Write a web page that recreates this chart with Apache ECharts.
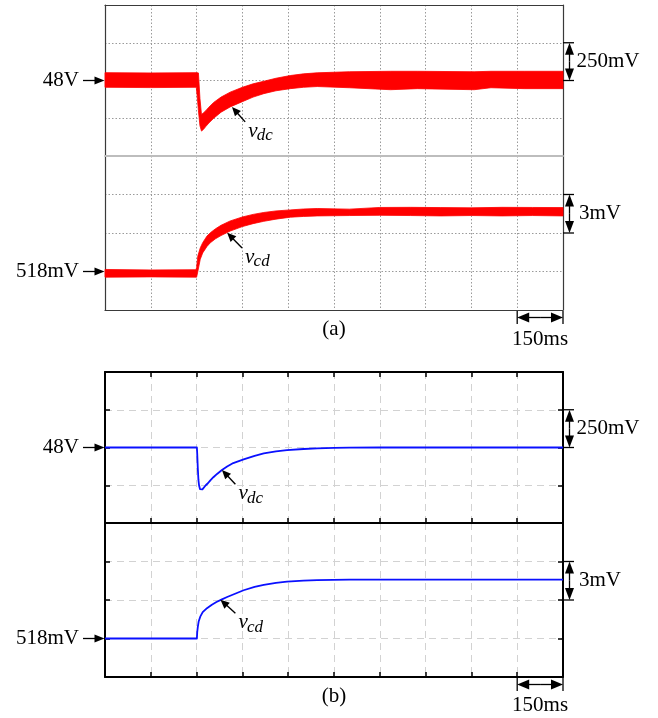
<!DOCTYPE html>
<html><head><meta charset="utf-8">
<script src="https://cdn.jsdelivr.net/npm/echarts@6/dist/echarts.min.js"></script>
<style>html,body{margin:0;padding:0;background:#fff}#c{width:658px;height:718px}</style>
</head><body><div id="c"></div>
<script>
// ---------- DATA (time in ms, voltages in V / mV) ----------
// (a) experimental: noisy band envelopes
const tA        = [0, 150, 299, 302, 306, 311, 316, 322, 330, 340, 356, 380, 410, 450, 485, 520, 560, 607, 650, 695, 800, 935, 1023, 1209, 1264, 1373, 1500];
const vdcUpperA = [48.052, 48.05, 48.052, 48.052, 48.05, 47.88, 47.775, 47.785, 47.80, 47.823, 47.855, 47.89, 47.923, 47.955, 47.978, 47.995, 48.015, 48.033, 48.044, 48.051, 48.058, 48.061, 48.061, 48.058, 48.061, 48.061, 48.061];
const vdcLowerA = [47.955, 47.953, 47.955, 47.895, 47.80, 47.70, 47.665, 47.675, 47.695, 47.718, 47.75, 47.79, 47.825, 47.86, 47.89, 47.913, 47.932, 47.946, 47.955, 47.96, 47.952, 47.939, 47.946, 47.939, 47.952, 47.946, 47.946];

const tB        = [0, 150, 298, 300, 304, 312, 320, 334, 345, 362, 380, 410, 450, 485, 520, 560, 607, 650, 695, 800, 900, 1000, 1100, 1200, 1300, 1400, 1500];
const vcdUpperA = [518.16, 518.12, 518.14, 518.3, 519.2, 519.84, 520.25, 520.76, 521.02, 521.33, 521.6, 521.94, 522.25, 522.45, 522.60, 522.72, 522.80, 522.87, 522.91, 522.86, 522.99, 523.0, 522.98, 522.96, 523.0, 522.99, 522.98];
const vcdLowerA = [517.56, 517.58, 517.56, 517.56, 518.0, 518.95, 519.45, 519.95, 520.24, 520.55, 520.8, 521.15, 521.5, 521.73, 521.91, 522.08, 522.23, 522.29, 522.33, 522.36, 522.38, 522.36, 522.33, 522.36, 522.33, 522.36, 522.33];

// (b) simulation
const tC     = [0, 301, 302, 303, 304, 306, 308, 311, 315, 319, 324, 330, 337, 345, 355, 367, 383, 400, 420, 454, 490, 520, 560, 596, 650, 695, 750, 800, 900, 1050, 1200, 1350, 1500];
const vdcSim = [48, 48, 47.96, 47.91, 47.86, 47.785, 47.75, 47.725, 47.713, 47.723, 47.735, 47.75, 47.763, 47.782, 47.803, 47.825, 47.851, 47.874, 47.897, 47.921, 47.945, 47.961, 47.974, 47.982, 47.99, 47.994, 47.997, 47.999, 48, 48, 48, 48, 48];
const tD     = [0, 301, 302, 304, 307, 312, 320, 334, 350, 365, 383, 400, 420, 454, 490, 520, 560, 596, 650, 695, 800, 900, 1050, 1200, 1350, 1500];
const vcdSim = [518, 518, 518.5, 518.91, 519.35, 519.70, 520.05, 520.36, 520.63, 520.84, 521.05, 521.23, 521.43, 521.76, 522.02, 522.18, 522.34, 522.43, 522.51, 522.55, 522.58, 522.59, 522.59, 522.59, 522.59, 522.59];

// axes
const timeRange = [0, 1500], timeStep = 150;
const vdcRange = [47.5, 48.5], vdcStep = 0.25;
const vcdRange = [515, 527], vcdStep = 3;

// labels
const levelLabels = ['48V', '518mV'];
const levelValues = [48, 518];
const scaleLabels = ['250mV', '3mV'];
const scaleSpans  = [[48.0, 48.25], [521, 524]];
const timeLabel = '150ms';
const timeSpan = [1350, 1500];
const panelLabels = ['(a)', '(b)'];
const curveNames = [['v', 'dc'], ['v', 'cd']];
// arrow head / tail anchors for curve labels, in data units [t, v]
const curveArrowsA = [[[416, 47.825], [459, 47.726]], [[400, 521.02], [449, 519.84]]];
const curveArrowsB = [[[383, 47.851], [427, 47.757]], [[378, 521.02], [427, 519.97]]];

// ---------- CHART ----------
const chart = echarts.init(document.getElementById('c'), null, {renderer: 'canvas'});
const FONT = "'Liberation Serif','Times New Roman',serif";
const zip = (t, v) => t.map((x, i) => [x, v[i]]);

const darkA = '#3a3a3a';
const dotA = {show: true, showMinLine: false, showMaxLine: false, lineStyle: {color: '#9a9a9a', width: 1, type: [1.5, 2]}};
const dashB = {show: true, showMinLine: false, showMaxLine: false, lineStyle: {color: '#d2d2d2', width: 1, type: [7, 5]}};
const tickB = {show: true, inside: true, length: 5, lineStyle: {color: '#000', width: 1.5}};
const noLab = {show: false};

function xAx(grid, pos, lineColor, lineWidth, split, tick) {
  return {type: 'value', gridIndex: grid, position: pos, min: timeRange[0], max: timeRange[1], interval: timeStep,
    axisLine: {show: true, onZero: false, lineStyle: {color: lineColor, width: lineWidth}},
    axisTick: tick || {show: false}, axisLabel: noLab, splitLine: split || {show: false}};
}
function yAx(grid, pos, range, step, lineColor, lineWidth, split, tick) {
  return {type: 'value', gridIndex: grid, position: pos, min: range[0], max: range[1], interval: step,
    axisLine: {show: true, onZero: false, lineStyle: {color: lineColor, width: lineWidth}},
    axisTick: tick || {show: false}, axisLabel: noLab, splitLine: split || {show: false}};
}

// band drawn as polygon between upper and lower envelopes, through the axes' scales
function bandSeries(xi, yi, t, up, lo) {
  return {
    type: 'custom', xAxisIndex: xi, yAxisIndex: yi, z: 3, silent: true,
    data: [[t[0], lo[0]]],
    renderItem: function (params, api) {
      const pts = [];
      for (let i = 0; i < t.length; i++) pts.push(api.coord([t[i], up[i]]));
      for (let i = t.length - 1; i >= 0; i--) pts.push(api.coord([t[i], lo[i]]));
      return {type: 'polygon', shape: {points: pts, smooth: 0}, style: {fill: '#ff0000', stroke: '#ff0000', lineWidth: 0.8, lineJoin: 'round'}};
    }
  };
}

const option = {
  animation: false,
  backgroundColor: '#fff',
  grid: [
    {left: 105, top: 5, width: 458, height: 151},
    {left: 105, top: 156, width: 458, height: 154},
    {left: 105, top: 372, width: 458, height: 151},
    {left: 105, top: 523, width: 458, height: 154}
  ],
  xAxis: [
    xAx(0, 'top', darkA, 1.2, dotA),
    xAx(0, 'bottom', '#bdbdbd', 1.8),
    xAx(1, 'bottom', darkA, 1.2, dotA),
    xAx(2, 'top', '#000', 2, dashB, tickB),
    xAx(2, 'bottom', '#000', 2, null, tickB),
    xAx(3, 'bottom', '#000', 2, dashB, tickB)
  ],
  yAxis: [
    yAx(0, 'left', vdcRange, vdcStep, darkA, 1.2, dotA),
    yAx(0, 'right', vdcRange, vdcStep, darkA, 1.2),
    yAx(1, 'left', vcdRange, vcdStep, darkA, 1.2, dotA),
    yAx(1, 'right', vcdRange, vcdStep, darkA, 1.2),
    yAx(2, 'left', vdcRange, vdcStep, '#000', 2, dashB, tickB),
    yAx(2, 'right', vdcRange, vdcStep, '#000', 2, null, tickB),
    yAx(3, 'left', vcdRange, vcdStep, '#000', 2, dashB, tickB),
    yAx(3, 'right', vcdRange, vcdStep, '#000', 2, null, tickB)
  ],
  series: [
    bandSeries(0, 0, tA, vdcUpperA, vdcLowerA),
    bandSeries(2, 2, tB, vcdUpperA, vcdLowerA),
    {type: 'line', xAxisIndex: 3, yAxisIndex: 4, data: zip(tC, vdcSim), symbol: 'none', smooth: false,
      lineStyle: {width: 1.8, color: '#0a10ff', join: 'round'}, z: 3},
    {type: 'line', xAxisIndex: 5, yAxisIndex: 6, data: zip(tD, vcdSim), symbol: 'none', smooth: false,
      lineStyle: {width: 1.8, color: '#0a10ff', join: 'round'}, z: 3}
  ]
};
chart.setOption(option);

// ---------- ANNOTATIONS ----------
const X = (ai, t) => chart.convertToPixel({xAxisIndex: ai}, t);
const Y = (ai, v) => chart.convertToPixel({yAxisIndex: ai}, v);
const g = [];
const txt = (x, y, s, align, size, italic) => g.push({type: 'text', x: x, y: y, z: 100,
  style: {text: s, fill: '#000', font: (italic ? 'italic ' : '') + size + 'px ' + FONT, align: align, verticalAlign: 'middle'}});
const line = (x1, y1, x2, y2, w) => g.push({type: 'line', z: 100, shape: {x1: x1, y1: y1, x2: x2, y2: y2},
  style: {stroke: '#000', lineWidth: w || 1.3}});
function arrow(x1, y1, x2, y2, hl, hw, w) {
  const dx = x2 - x1, dy = y2 - y1, L = Math.hypot(dx, dy), ux = dx / L, uy = dy / L;
  const bx = x2 - ux * hl, by = y2 - uy * hl;
  line(x1, y1, bx + ux * 1, by + uy * 1, w);
  g.push({type: 'polygon', z: 100, shape: {points: [[x2, y2], [bx - uy * hw / 2, by + ux * hw / 2], [bx + uy * hw / 2, by - ux * hw / 2]]},
    style: {fill: '#000'}});
}

const panels = [
  {yTop: 0, yBot: 2, xBot: 2, arrows: curveArrowsA, textDy: 29},
  {yTop: 4, yBot: 6, xBot: 5, arrows: curveArrowsB, textDy: 28}
];
panels.forEach((p, pi) => {
  const xL = X(p.xBot, timeRange[0]), xR = X(p.xBot, timeRange[1]);
  const yAxesP = [p.yTop, p.yBot];
  yAxesP.forEach((ya, k) => {
    const yl = Y(ya, levelValues[k]);
    txt(xL - 26, yl, levelLabels[k], 'right', 21);
    arrow(xL - 22, yl, xL - 0.5, yl, 10, 8, 1.3);
    const y1 = Y(ya, scaleSpans[k][1]), y2 = Y(ya, scaleSpans[k][0]);
    const xa = xR + 6.5;
    line(xR, y1, xR + 11, y1, 1.3);
    line(xR, y2, xR + 11, y2, 1.3);
    const ym = (y1 + y2) / 2;
    arrow(xa, ym, xa, y1, 12, 9, 1.3);
    arrow(xa, ym, xa, y2, 12, 9, 1.3);
    txt(xR + (k === 0 ? 13.5 : 16), ym, scaleLabels[k], 'left', 21);
    const head = p.arrows[k][0], tail = p.arrows[k][1];
    const xh = X(p.xBot, head[0]), yh = Y(ya, head[1]);
    const xt = X(p.xBot, tail[0]), yt = Y(ya, tail[1]);
    arrow(xt, yt, xh, yh, 9, 8, 1.4);
    txt(xt + 3, yt + 9.5, curveNames[k][0], 'left', 21, true);
    txt(xt + 11.5, yt + 14, curveNames[k][1], 'left', 17, true);
  });
  const yb = Y(p.yBot, vcdRange[0]);
  const xs1 = X(p.xBot, timeSpan[0]), xs2 = X(p.xBot, timeSpan[1]);
  line(xs1, yb + 1, xs1, yb + 14, 1.3);
  line(xs2, yb + 1, xs2, yb + 14, 1.3);
  const xm = (xs1 + xs2) / 2;
  arrow(xm, yb + 7.5, xs1, yb + 7.5, 12, 10, 1.3);
  arrow(xm, yb + 7.5, xs2, yb + 7.5, 12, 10, 1.3);
  txt(xm, yb + p.textDy, timeLabel, 'center', 21);
  txt((xL + xR) / 2, yb + 19.5, panelLabels[pi], 'center', 21);
});
chart.setOption({graphic: {elements: g}});
</script>
</body></html>
